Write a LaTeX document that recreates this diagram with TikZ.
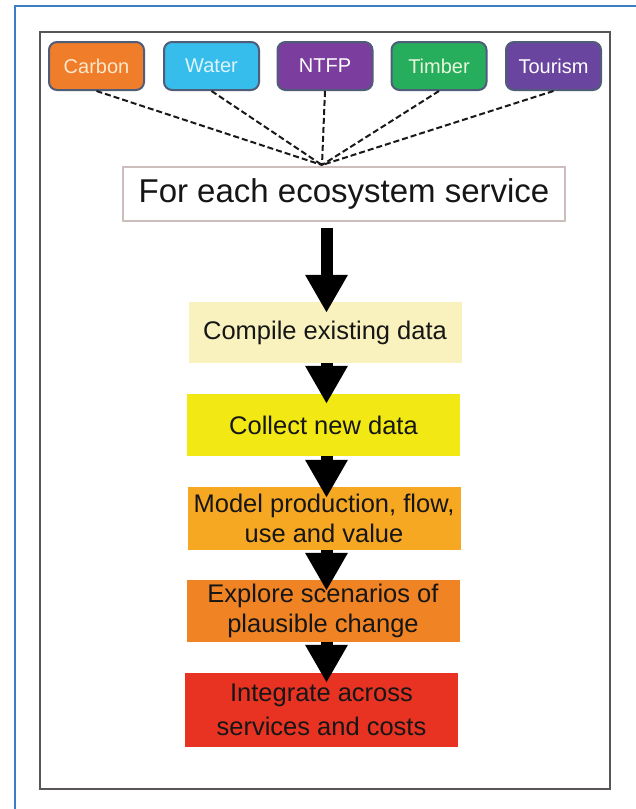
\documentclass[tikz,border=0pt]{standalone}
\usepackage{fontspec}
\setmainfont{Liberation Sans}
\usetikzlibrary{arrows.meta,calc}

\definecolor{frameblue}{HTML}{3D7CC6}
\definecolor{framegray}{HTML}{5A5656}
\definecolor{svcborder}{HTML}{4F5D78}
\definecolor{carbonfill}{HTML}{F07D2A}
\definecolor{waterfill}{HTML}{36BDEB}
\definecolor{ntfpfill}{HTML}{7B3E9E}
\definecolor{timberfill}{HTML}{27AE5C}
\definecolor{tourismfill}{HTML}{6A45A0}
\definecolor{compilefill}{HTML}{FAF2BE}
\definecolor{collectfill}{HTML}{F1E814}
\definecolor{modelfill}{HTML}{F6A823}
\definecolor{explorefill}{HTML}{F08425}
\definecolor{integratefill}{HTML}{E83323}
\definecolor{topborder}{HTML}{CDBEBE}
\definecolor{textdark}{HTML}{161616}

\begin{document}
\begin{tikzpicture}[x=1pt,y=-1pt,
  service/.style={rounded corners=8pt, draw=svcborder, line width=2pt,
    minimum width=95pt, minimum height=48pt, inner sep=0pt,
    font=\fontsize{20}{24}\selectfont},
  flowbox/.style={minimum width=273pt, inner sep=0pt, align=center,
    text=textdark, font=\fontsize{25.5}{30}\selectfont},
  dashline/.style={dashed, dash pattern=on 6pt off 3pt, line width=2pt, black!90},
  flowarrow/.style={line width=12pt, black,
    -{Triangle[width=40pt, length=38pt]}}
]
\useasboundingbox (0,0) rectangle (636,809);
\fill[white] (0,0) rectangle (636,809);

% outer page rule and inner frame
\draw[frameblue, line width=2pt] (15,809) -- (15,5.5) -- (636,5.5);
\draw[framegray, line width=2.2pt] (40,32) rectangle (610,789);

% ecosystem services
\node[service, fill=carbonfill, text={rgb,255:red,252;green,232;blue,205}] (carbon) at (96.5,66) {Carbon};
\node[service, fill=waterfill, text={rgb,255:red,222;green,244;blue,252}] (water) at (211.5,66) {Water};
\node[service, fill=ntfpfill, text=white] (ntfp) at (325,66) {NTFP};
\node[service, fill=timberfill, text={rgb,255:red,232;green,246;blue,220}] (timber) at (439,66) {Timber};
\node[service, fill=tourismfill, text=white] (tourism) at (553.5,66) {Tourism};

\coordinate (hub) at (322,165);
\foreach \s in {carbon,water,ntfp,timber,tourism}
  \draw[dashline] (\s.south) -- (hub);

% heading box
\node[draw=topborder, line width=1.2pt, minimum width=442pt, minimum height=54pt,
  inner sep=0pt, text=textdark, font=\fontsize{33}{38}\selectfont] (top) at (344,194)
  {For each ecosystem service};

% workflow steps
\node[flowbox, fill=compilefill, minimum height=61pt] (comp) at (325,332.5) {Compile existing data};
\node[flowbox, fill=collectfill, minimum height=62pt] (coll) at (323.5,425) {Collect new data};
\node[flowbox, fill=modelfill, minimum height=63pt] (model) at (324,518.5) {Model production, flow,\\use and value};
\node[flowbox, fill=explorefill, minimum height=62pt] (expl) at (323,611) {Explore scenarios of\\plausible change};
\node[flowbox, fill=integratefill, minimum height=74pt,
  font=\fontsize{25.5}{34}\selectfont] (integ) at (321.5,710) {Integrate across\\services and costs};

% arrows between steps
\draw[flowarrow] ($(top.south -| comp.north)+(1.5,6)$) -- ($(comp.north)+(1.5,11)$);
\draw[flowarrow] ($(comp.south)+(1.5,0)$) -- ($(coll.north)+(3,10)$);
\draw[flowarrow] ($(coll.south)+(3,0)$) -- ($(model.north)+(2.5,11)$);
\draw[flowarrow] ($(model.south)+(2.5,0)$) -- ($(expl.north)+(3.5,11)$);
\draw[flowarrow] ($(expl.south)+(3.5,0)$) -- ($(integ.north)+(5,10)$);
\end{tikzpicture}
\end{document}
